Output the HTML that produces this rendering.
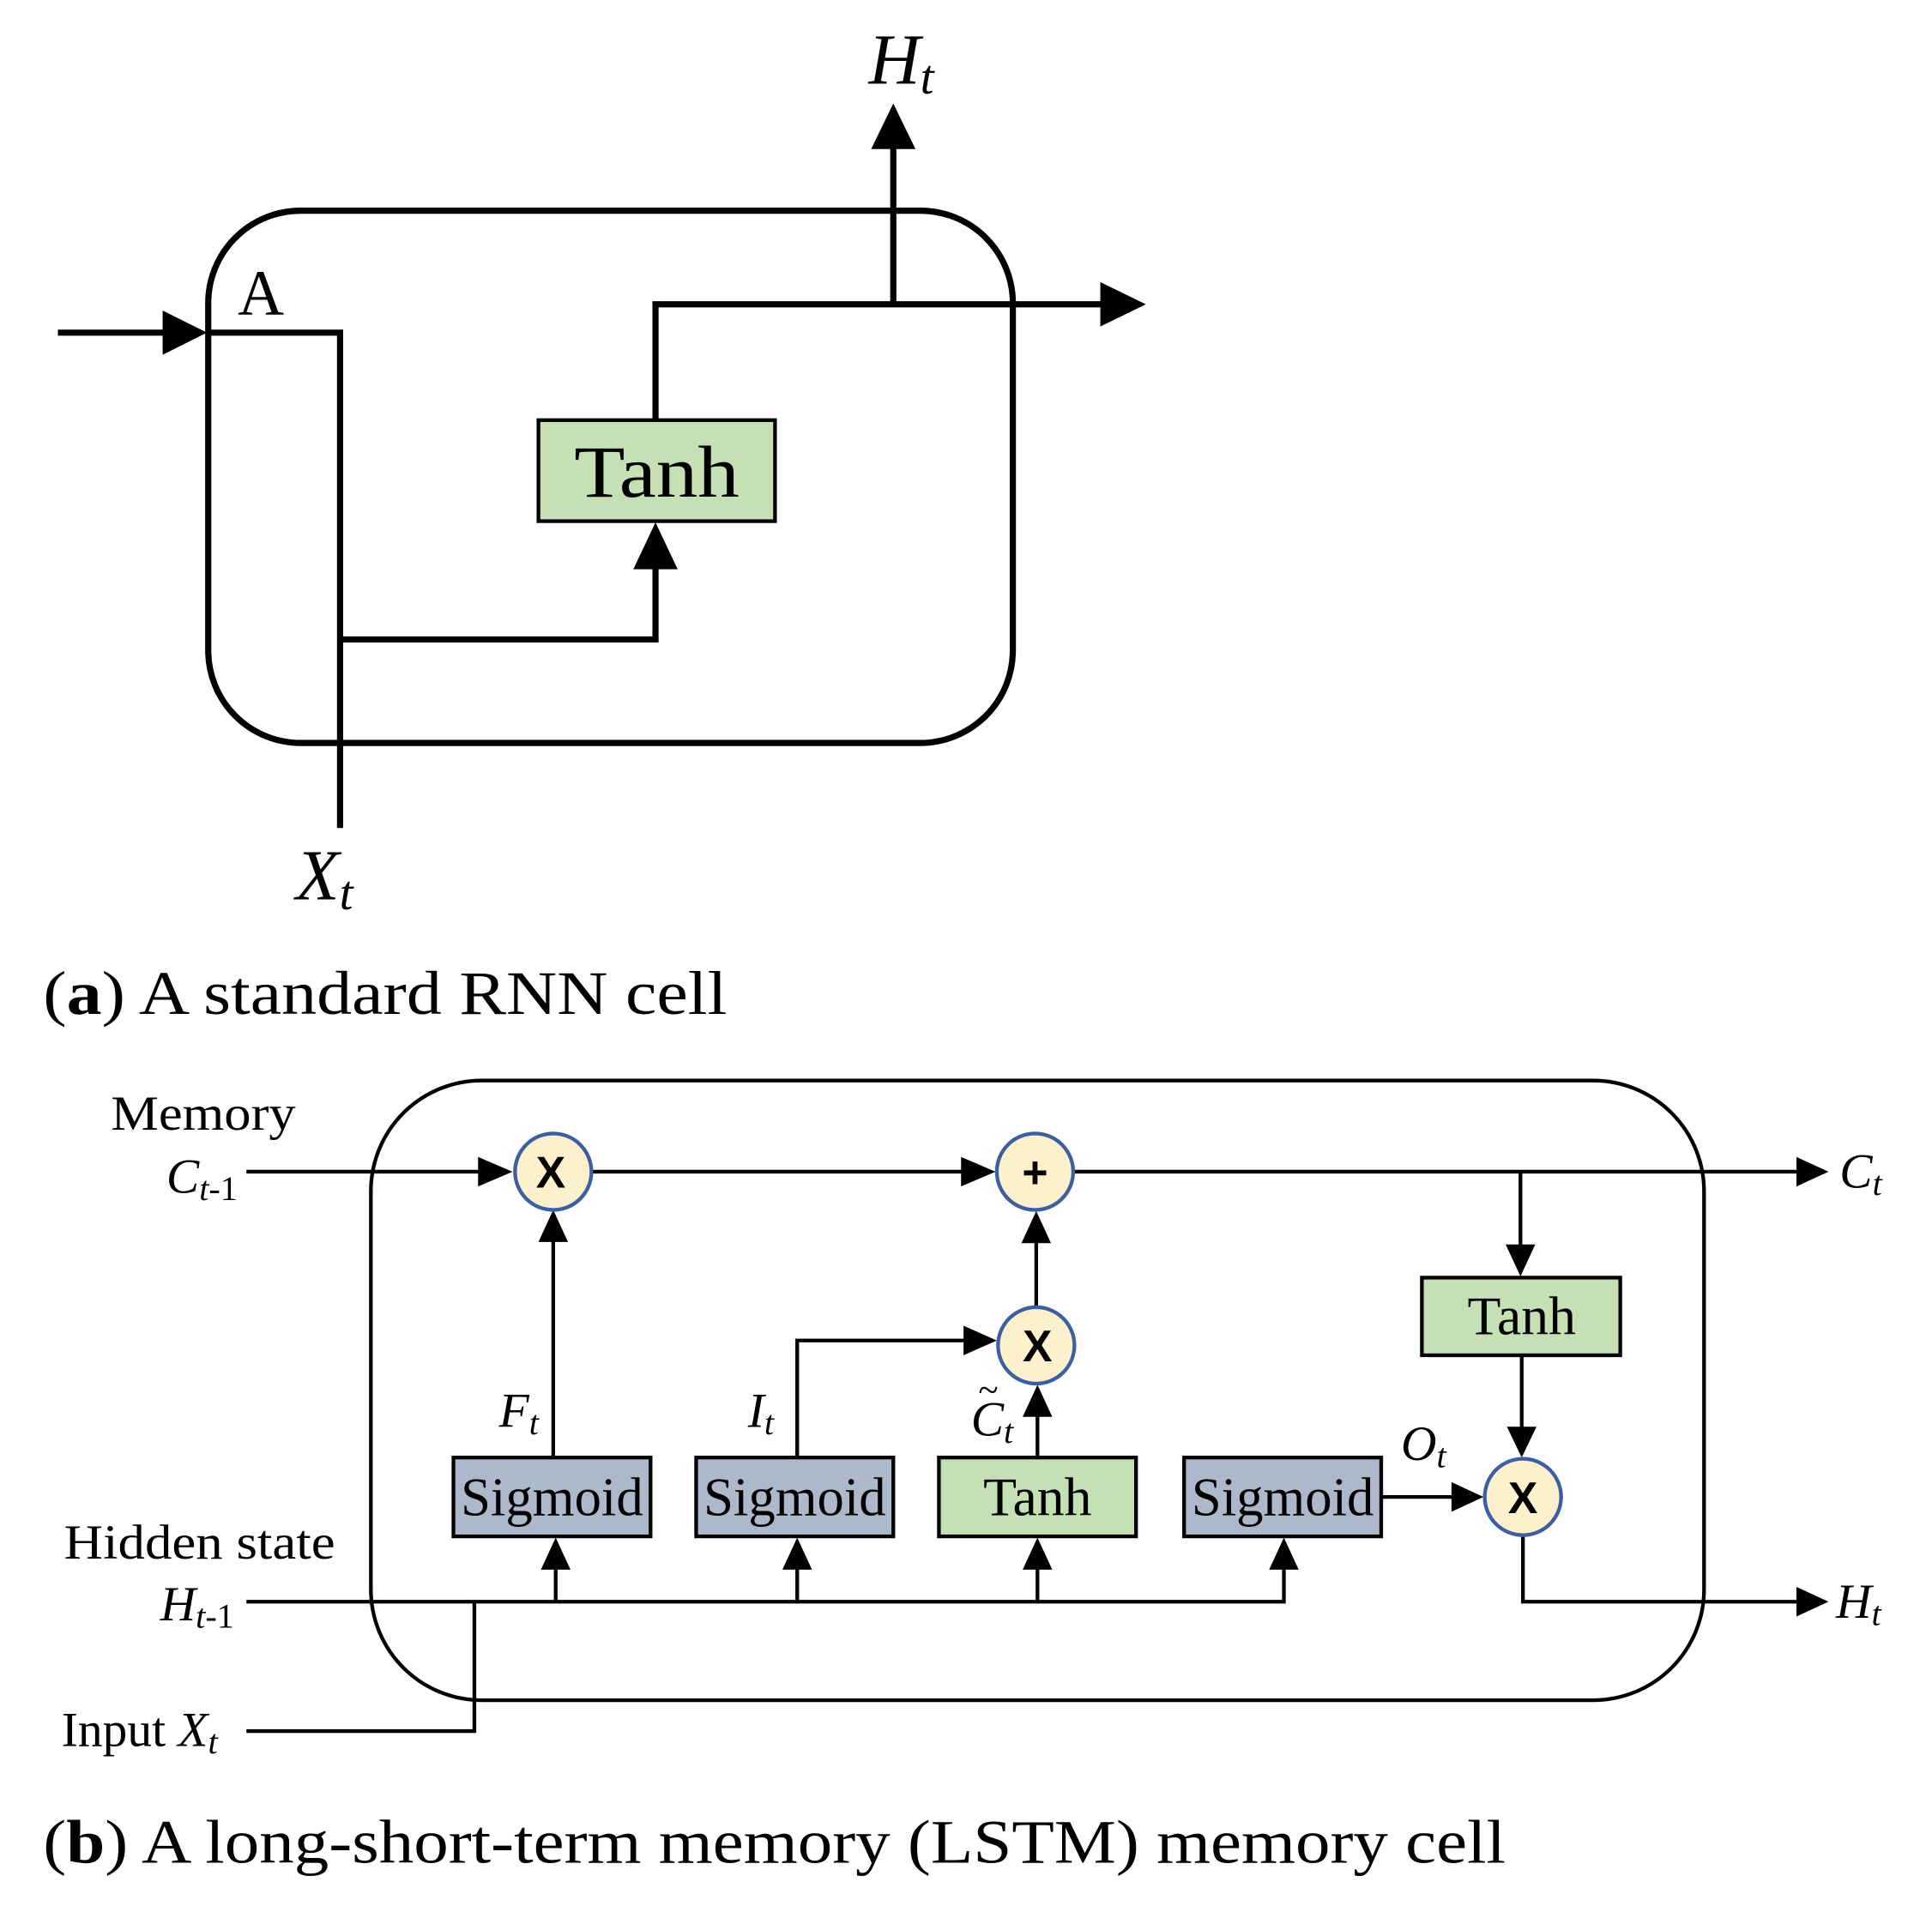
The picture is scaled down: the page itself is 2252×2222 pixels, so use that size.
<!DOCTYPE html>
<html><head><meta charset="utf-8"><style>html,body{margin:0;padding:0;background:#fff}svg{display:block}</style></head>
<body>
<svg width="2252" height="2222" viewBox="0 0 1568 1547" preserveAspectRatio="none" xmlns="http://www.w3.org/2000/svg" font-family="Liberation Serif, serif">
<!-- (a) -->
<g stroke="#000" fill="none" stroke-width="5">
<rect x="169" y="171" width="653" height="432" rx="75"/>
<line x1="47" y1="270" x2="135" y2="270"/>
<polyline points="168,270 276,270 276,672"/>
<polyline points="276,519 532,519 532,458"/>
<polyline points="532,341 532,247 895,247"/>
<line x1="725" y1="247" x2="725" y2="118"/>
</g>
<g fill="#000">
<polygon points="132,252 168,270 132,288"/>
<polygon points="514,462 532,424 550,462"/>
<polygon points="893,229 930,247 893,265"/>
<polygon points="707,121 725,84 743,121"/>
</g>
<rect x="437" y="341" width="192" height="82" fill="#c5e0b4" stroke="#000" stroke-width="3"/>
<text x="533" y="403" font-size="60" text-anchor="middle" textLength="134" lengthAdjust="spacingAndGlyphs">Tanh</text>
<text x="193" y="255" font-size="52">A</text>
<text x="705" y="68" font-size="58" font-style="italic">H<tspan font-size="40" dy="8">t</tspan></text>
<text x="240" y="730" font-size="58" font-style="italic">X<tspan font-size="40" dy="8">t</tspan></text>
<text x="35" y="823" font-size="50" textLength="555" lengthAdjust="spacingAndGlyphs">(<tspan font-weight="bold">a</tspan>) A standard RNN cell</text>

<!-- (b) -->
<g stroke="#000" fill="none" stroke-width="3">
<rect x="301" y="877" width="1082" height="503" rx="90"/>
<line x1="200" y1="951" x2="390" y2="951"/>
<line x1="481" y1="951" x2="785" y2="951"/>
<line x1="872" y1="951" x2="1460" y2="951"/>
<line x1="1234" y1="951" x2="1234" y2="1012"/>
<line x1="1235" y1="1100" x2="1235" y2="1160"/>
<polyline points="1236,1247 1236,1300 1460,1300"/>
<line x1="449" y1="1183" x2="449" y2="1006"/>
<polyline points="647,1183 647,1088 785,1088"/>
<line x1="842" y1="1183" x2="842" y2="1148"/>
<line x1="841" y1="1060" x2="841" y2="1007"/>
<line x1="1121" y1="1215" x2="1180" y2="1215"/>
<polyline points="200,1300 1042,1300 1042,1272"/>
<line x1="451" y1="1300" x2="451" y2="1272"/>
<line x1="647" y1="1300" x2="647" y2="1272"/>
<line x1="842" y1="1300" x2="842" y2="1272"/>
<polyline points="200,1405 385,1405 385,1300"/>
</g>
<g fill="#000">
<polygon points="388,939 416,951 388,963"/>
<polygon points="780,939 808,951 780,963"/>
<polygon points="1458,939 1484,951 1458,963"/>
<polygon points="1222,1010 1234,1036 1246,1010"/>
<polygon points="1223,1158 1235,1183 1247,1158"/>
<polygon points="1458,1288 1484,1300 1458,1312"/>
<polygon points="437,1008 449,982 461,1008"/>
<polygon points="782,1076 809,1088 782,1100"/>
<polygon points="830,1150 842,1124 854,1150"/>
<polygon points="829,1009 841,983 853,1009"/>
<polygon points="1178,1203 1204,1215 1178,1227"/>
<polygon points="439,1274 451,1248 463,1274"/>
<polygon points="635,1274 647,1248 659,1274"/>
<polygon points="830,1274 842,1248 854,1274"/>
<polygon points="1030,1274 1042,1248 1054,1274"/>
</g>
<g stroke="#000" stroke-width="3">
<rect x="368" y="1183" width="160" height="64" fill="#adb9ca"/>
<rect x="565" y="1183" width="160" height="64" fill="#adb9ca"/>
<rect x="762" y="1183" width="160" height="64" fill="#c5e0b4"/>
<rect x="961" y="1183" width="160" height="64" fill="#adb9ca"/>
<rect x="1154" y="1037" width="161" height="63" fill="#c5e0b4"/>
</g>
<g font-size="44" text-anchor="middle">
<text x="448" y="1230" textLength="148" lengthAdjust="spacingAndGlyphs">Sigmoid</text>
<text x="645" y="1230" textLength="148" lengthAdjust="spacingAndGlyphs">Sigmoid</text>
<text x="842" y="1230" textLength="88" lengthAdjust="spacingAndGlyphs">Tanh</text>
<text x="1041" y="1230" textLength="148" lengthAdjust="spacingAndGlyphs">Sigmoid</text>
<text x="1235" y="1083" textLength="88" lengthAdjust="spacingAndGlyphs">Tanh</text>
</g>
<g fill="#fdf0cc" stroke="#3b5fa0" stroke-width="3">
<circle cx="449" cy="951" r="31"/>
<circle cx="840" cy="951" r="31"/>
<circle cx="841" cy="1092" r="31"/>
<circle cx="1236" cy="1215" r="31"/>
</g>
<g font-family="Liberation Sans, sans-serif" font-weight="bold" font-size="36" text-anchor="middle">
<text x="447" y="964">X</text>
<text x="840" y="964">+</text>
<text x="842" y="1105">X</text>
<text x="1236" y="1228">X</text>
</g>
<g font-size="40">
<text x="90" y="917" textLength="150" lengthAdjust="spacingAndGlyphs">Memory</text>
<text x="135" y="968" font-style="italic">C<tspan font-size="28" dy="6">t</tspan><tspan font-style="normal" font-size="28">-1</tspan></text>
<text x="52" y="1265" textLength="220" lengthAdjust="spacingAndGlyphs">Hidden state</text>
<text x="130" y="1315" font-style="italic">H<tspan font-size="28" dy="6">t</tspan><tspan font-style="normal" font-size="28">-1</tspan></text>
<text x="50" y="1417">Input <tspan font-style="italic">X</tspan><tspan font-style="italic" font-size="28" dy="6">t</tspan></text>
<text x="1493" y="964" font-style="italic">C<tspan font-size="28" dy="6">t</tspan></text>
<text x="1490" y="1313" font-style="italic">H<tspan font-size="28" dy="6">t</tspan></text>
<text x="405" y="1158" font-style="italic">F<tspan font-size="28" dy="6">t</tspan></text>
<text x="607" y="1158" font-style="italic">I<tspan font-size="28" dy="6">t</tspan></text>
<text x="788" y="1165" font-style="italic">C<tspan font-size="28" dy="6">t</tspan></text>
<text x="794" y="1138" font-size="30">~</text>
<text x="1137" y="1185" font-style="italic">O<tspan font-size="28" dy="6">t</tspan></text>
</g>
<text x="35" y="1512" font-size="50" textLength="1187" lengthAdjust="spacingAndGlyphs">(<tspan font-weight="bold">b</tspan>) A long-short-term memory (LSTM) memory cell</text>
</svg>
</body></html>
